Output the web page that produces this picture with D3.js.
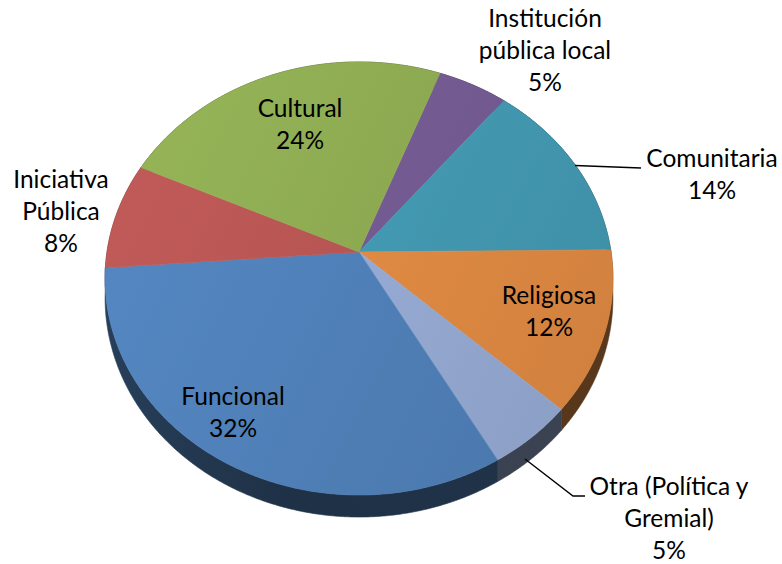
<!DOCTYPE html>
<html>
<head>
<meta charset="utf-8">
<script src="https://cdn.jsdelivr.net/npm/d3@7"></script>
<style>
  html, body { margin: 0; padding: 0; background: #fff; }
  svg { display: block; }
  text { font-family: Lato, "Open Sans", sans-serif; font-size: 24.5px; fill: #000; }
</style>
</head>
<body>
<svg id="chart" width="782" height="564"></svg>
<script>
// Participation by organisation type (percent of total), clockwise from the first slice
const categories = ["Institución pública local", "Comunitaria", "Religiosa",
  "Otra (Política y Gremial)", "Funcional", "Iniciativa Pública", "Cultural"];
const shares = [5, 14, 12, 5, 32, 8, 24];
const colors = ["#735A91", "#4399B1", "#DF8A43", "#95AAD3", "#5080B8", "#B65553", "#8DAA52"];

// Label placement: centre x, first baseline, wrap width, optional leader line
const labelLayout = {
  "Institución pública local": { x: 545, y: 27, wrap: 135 },
  "Comunitaria": { x: 712, y: 167, wrap: 200, leader: [[575, 165.5], [641, 168]] },
  "Religiosa": { x: 549, y: 304, wrap: 200 },
  "Otra (Política y Gremial)": { x: 669, y: 495, wrap: 175 },
  "Funcional": { x: 233, y: 405, wrap: 200 },
  "Iniciativa Pública": { x: 61, y: 188, wrap: 115 },
  "Cultural": { x: 300, y: 117, wrap: 200 }
};
labelLayout["Otra (Política y Gremial)"].leader = [[525, 459], [573, 496], [585, 496]];
const lineStep = 32;

// 3D view: tilted disc seen in perspective
const cx = 359, cy = 252;
const A = 252, B = 213.3, k = 0.1224, depth = 22 * (1 - k);
const firstAngle = 21 * Math.PI / 180;

function proj(theta, r, drop) {
  const u = r * Math.sin(theta), v = r * Math.cos(theta);
  const w = 1 + k * v;
  return [cx + A * u / w, cy - B * v / w + (drop ? depth / w : 0)];
}

const svg = d3.select("#chart");
const defs = svg.append("defs");

const pie = d3.pie().sort(null).value(d => d)
  .startAngle(firstAngle).endAngle(firstAngle + 2 * Math.PI);
const arcs = pie(shares);

function rim(a0, a1, drop) {
  const n = Math.max(2, Math.ceil((a1 - a0) / (0.4 * Math.PI / 180)));
  return d3.range(n + 1).map(i => proj(a0 + (a1 - a0) * i / n, 1, drop));
}

// gradients: top faces lit from the left, walls darker
arcs.forEach((a, i) => {
  const base = d3.color(colors[i]);
  const g = defs.append("linearGradient").attr("id", "top" + i)
    .attr("gradientUnits", "userSpaceOnUse")
    .attr("x1", 104).attr("y1", 150).attr("x2", 613).attr("y2", 400);
  g.append("stop").attr("offset", 0).attr("stop-color", base.brighter(0.18));
  g.append("stop").attr("offset", 1).attr("stop-color", base.darker(0.2));
  const wg = defs.append("linearGradient").attr("id", "wall" + i)
    .attr("gradientUnits", "userSpaceOnUse")
    .attr("x1", 104).attr("y1", 0).attr("x2", 613).attr("y2", 0);
  wg.append("stop").attr("offset", 0).attr("stop-color", base.darker(2.0));
  wg.append("stop").attr("offset", 0.35).attr("stop-color", base.darker(2.7));
  wg.append("stop").attr("offset", 1).attr("stop-color", base.darker(2.6));
});

const line = d3.line();

// outer walls (back parts end up hidden under the top faces)
const walls = svg.append("g");
arcs.forEach((a, i) => {
  const top = rim(a.startAngle, a.endAngle, false);
  const bot = rim(a.startAngle, a.endAngle, true).reverse();
  walls.append("path")
    .attr("d", line(top.concat(bot)) + "Z")
    .attr("fill", `url(#wall${i})`)
    .attr("stroke", `url(#wall${i})`).attr("stroke-width", 0.6);
});

// top faces
const tops = svg.append("g");
arcs.forEach((a, i) => {
  const pts = [proj(0, 0, false)].concat(rim(a.startAngle, a.endAngle, false));
  tops.append("path")
    .attr("d", line(pts) + "Z")
    .attr("fill", `url(#top${i})`)
    .attr("stroke", `url(#top${i})`).attr("stroke-width", 0.6);
});

// labels
const labels = svg.append("g");
arcs.forEach((a, i) => {
  const name = categories[i];
  const lay = labelLayout[name];
  if (lay.leader) {
    labels.append("path").attr("d", line(lay.leader))
      .attr("fill", "none").attr("stroke", "#000").attr("stroke-width", 1.4);
  }
  const t = labels.append("text").attr("text-anchor", "middle");
  // greedy word wrap
  const words = name.split(" ");
  const lines = [];
  let cur = "";
  const probe = labels.append("text");
  words.forEach(w => {
    const tryLine = cur ? cur + " " + w : w;
    probe.text(tryLine);
    if (cur && probe.node().getComputedTextLength() > lay.wrap) {
      lines.push(cur); cur = w;
    } else cur = tryLine;
  });
  lines.push(cur);
  probe.remove();
  lines.push(Math.round(shares[i]) + "%");
  lines.forEach((l, j) => {
    t.append("tspan").attr("x", lay.x).attr("y", lay.y + j * lineStep).text(l);
  });
});
</script>
</body>
</html>
